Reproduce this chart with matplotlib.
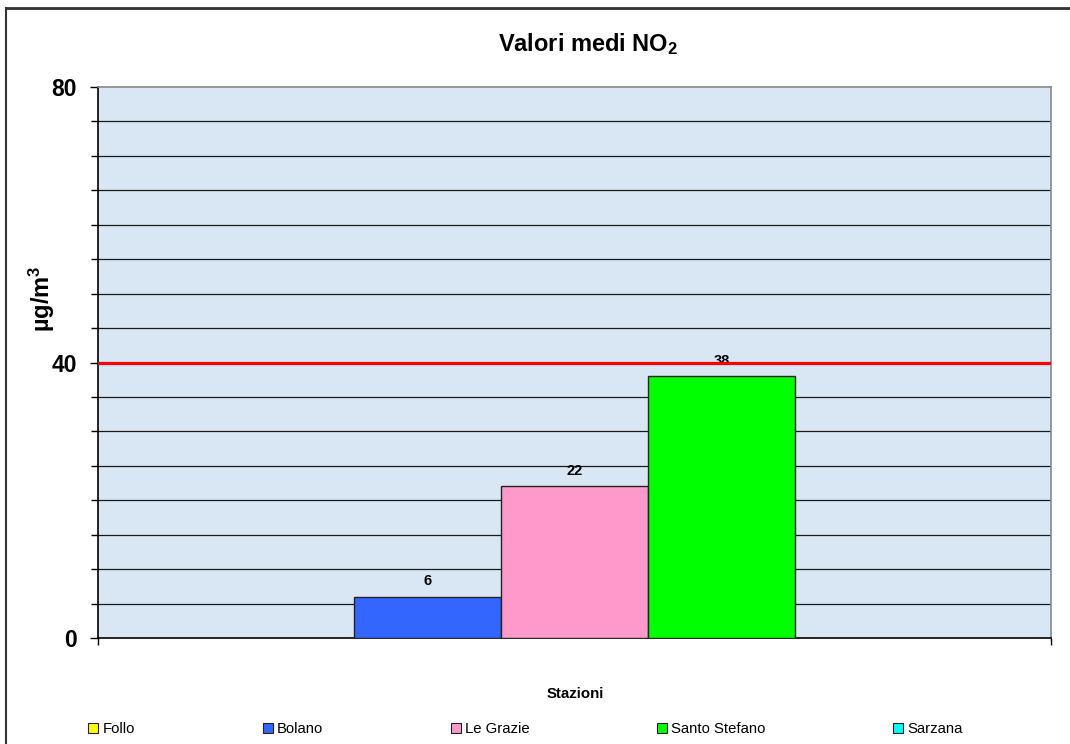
import numpy as np
import matplotlib
matplotlib.use("Agg")
import matplotlib.pyplot as plt
from matplotlib.lines import Line2D
from matplotlib.patches import Patch

plt.rcParams['font.family'] = ['Liberation Sans', 'DejaVu Sans']
plt.rcParams['mathtext.default'] = 'regular'

# data
stations = ['Follo', 'Bolano', 'Le Grazie', 'Santo Stefano', 'Sarzana']
values = [np.nan, 6, 22, 38, np.nan]
colors = ['#FFFF00', '#3366FF', '#FF99CC', '#00FF00', '#00FFFF']
limit = 40

fig = plt.figure(figsize=(10.7, 7.44), dpi=100)
ax = fig.add_axes([98/1070, 1-638/744, (1051-98)/1070, (638-87)/744])
ax.set_facecolor('#d9e7f5')

x = np.arange(len(stations)) - 2
bars = ax.bar(x, values, width=1.0, color=colors, edgecolor='#222222', linewidth=1, zorder=3)
for xi, v in zip(x, values):
    if not np.isnan(v):
        ax.annotate(f'{v:g}', (xi, v), xytext=(0, 6), textcoords='offset points',
                    ha='center', va='bottom', fontsize=10.5, fontweight='bold', zorder=4)

ax.axhline(limit, color='#FF0000', linewidth=2.3, zorder=5)

ax.set_xlim(-3.24, 3.24)
ax.set_ylim(0, 80)
ax.set_yticks([0, 40, 80])
ax.set_yticks(np.arange(0, 81, 5), minor=True)
ax.yaxis.grid(True, which='minor', color='#1a1a1a', linewidth=0.9, zorder=1)
ax.set_axisbelow(True)
ax.tick_params(axis='y', which='major', direction='out', length=6, width=1, pad=9,
               labelsize=16.5)
ax.tick_params(axis='y', which='minor', direction='out', length=5, width=1)
for lab in ax.get_yticklabels():
    lab.set_fontweight('bold')
ax.set_xticks([-3.24, 3.24])
ax.set_xticklabels(['', ''])
ax.tick_params(axis='x', direction='out', length=5, width=1)

ax.spines['left'].set_color('black')
ax.spines['bottom'].set_color('black')
ax.spines['top'].set_color('#888888')
ax.spines['right'].set_color('#888888')
for s in ax.spines.values():
    s.set_linewidth(1.2)

fig.text(588/1070, 1-44/744, 'Valori medi NO$_2$', ha='center', va='center',
         fontsize=17, fontweight='bold')
fig.text(42/1070, 1-299/744, 'µg/m$^3$', ha='center', va='center', rotation=90,
         fontsize=17, fontweight='bold')
fig.text(575/1070, 1-694/744, 'Stazioni', ha='center', va='center',
         fontsize=10.8, fontweight='bold')

handles = [Patch(facecolor=c, edgecolor='#222222', linewidth=0.8) for c in colors]
fig.legend(handles, stations, loc='center', bbox_to_anchor=(525.5/1070, 1-729/744),
           ncol=5, frameon=False, fontsize=10.7, handlelength=0.67, handleheight=0.67,
           handletextpad=0.27, columnspacing=8.6)

# outer chart frame
fig.add_artist(Line2D([6/1070, 1], [1-8/744, 1-8/744], color='#333333', linewidth=2))
fig.add_artist(Line2D([6/1070, 6/1070], [0, 1-8/744], color='#333333', linewidth=1.5))

fig.savefig('out.png', dpi=100)
